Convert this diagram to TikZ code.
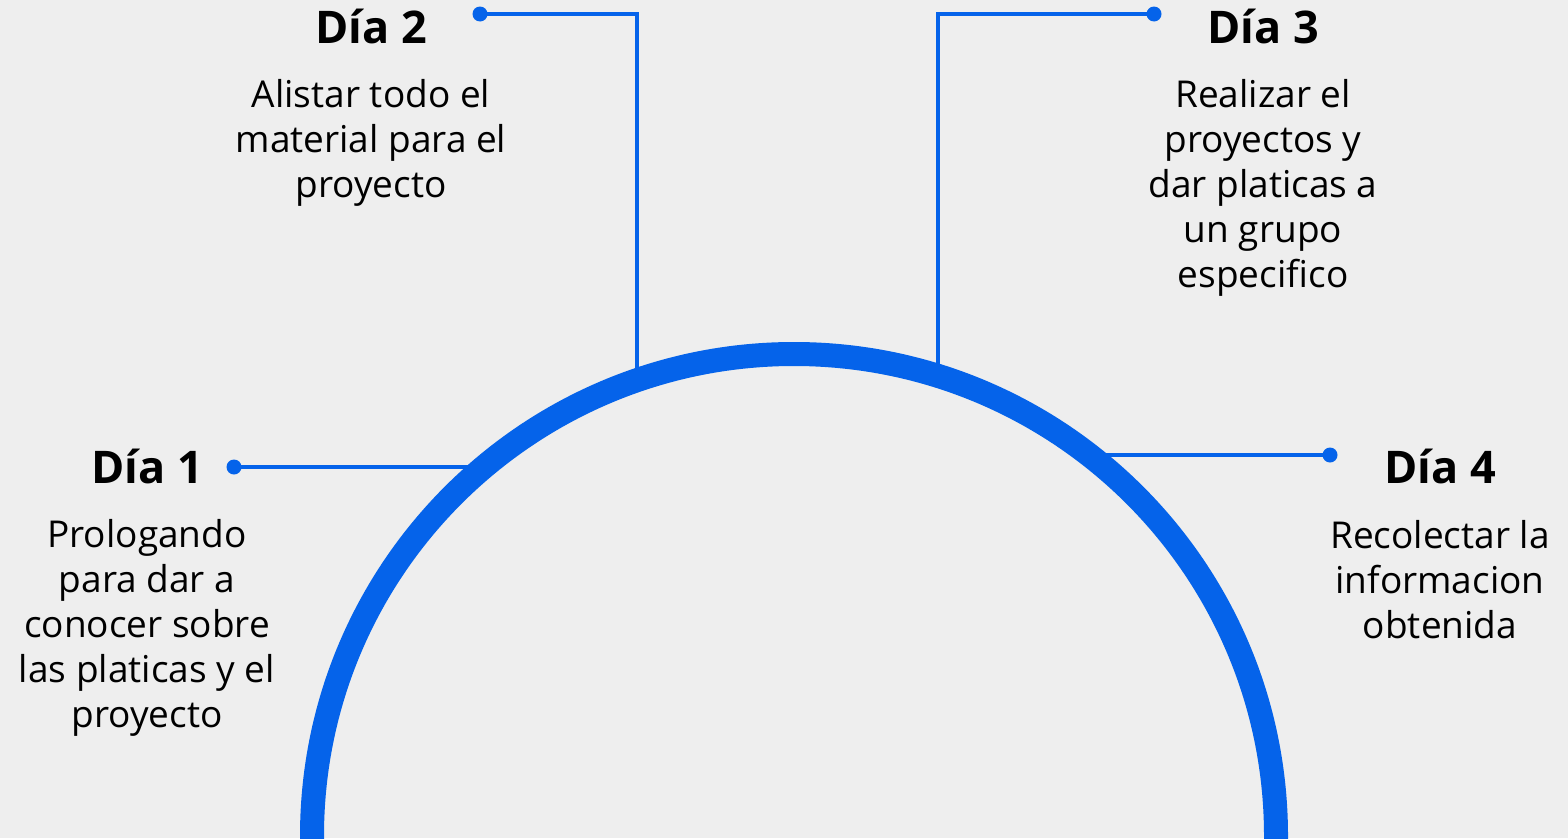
\documentclass[tikz,border=0pt]{standalone}
\usepackage{fontspec}
\setmainfont{Open Sans}
\definecolor{bgc}{HTML}{EEEEEE}
\definecolor{bluec}{HTML}{0563EA}
\newcommand{\blocktext}[1]{\begin{tabular}[t]{@{}c@{}}#1\end{tabular}}
\tikzset{
  title/.style={anchor=base, inner sep=0pt, font=\fontsize{45}{50}\selectfont\bfseries, text=black},
  body/.style={anchor=base, inner sep=0pt, font=\fontsize{37}{45}\selectfont, text=black},
  link/.style={draw=bluec, line width=3.5pt},
  dot/.style={circle, fill=bluec, inner sep=0pt, minimum size=15pt},
}
\begin{document}
\begin{tikzpicture}[x=1pt, y=-1pt]
\useasboundingbox (0,0) rectangle (1568,838);
\fill[bgc] (0,0) rectangle (1568,838);

% points on the ring
\coordinate (c) at (794,836);
\coordinate (a1) at (485.5,467);
\coordinate (a2) at (637,381);
\coordinate (a3) at (938,377);
\coordinate (a4) at (1087.6,455);

% dots
\node[dot] (d1) at (234,467) {};
\node[dot] (d2) at (480,14) {};
\node[dot] (d3) at (1154,14) {};
\node[dot] (d4) at (1330,455) {};

% connectors
\draw[link] (d1.center) -- (a1);
\draw[link] (d2.center) -| (a2);
\draw[link] (d3.center) -| (a3);
\draw[link] (d4.center) -- (a4);

% ring
\begin{scope}
\clip (0,0) rectangle (1568,838);
\draw[bluec, line width=24pt] (c) circle[radius=482];
\end{scope}

% texts
\node[title] (t1) at (147,483) {Día 1};
\node[body] (b1) at (147,547) {\blocktext{Prologando\\para dar a\\conocer sobre\\las platicas y el\\proyecto}};

\node[title] (t2) at (371,43) {Día 2};
\node[body] (b2) at (371,107) {\blocktext{Alistar todo el\\material para el\\proyecto}};

\node[title] (t3) at (1263,43) {Día 3};
\node[body] (b3) at (1263,107) {\blocktext{Realizar el\\proyectos y\\dar platicas a\\un grupo\\especifico}};

\node[title] (t4) at (1440,483) {Día 4};
\node[body] (b4) at (1440,548) {\blocktext{Recolectar la\\informacion\\obtenida}};
\end{tikzpicture}
\end{document}
